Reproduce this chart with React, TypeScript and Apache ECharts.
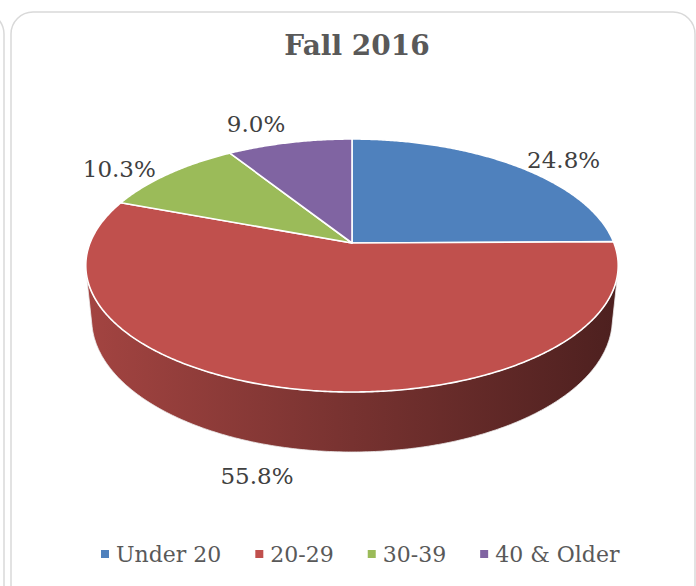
import React, { useEffect, useRef } from "react";
import * as echarts from "echarts";

const categories = ["Under 20", "20-29", "30-39", "40 & Older"];
const values = [24.8, 55.8, 10.3, 9.0];
const labels = ["24.8%", "55.8%", "10.3%", "9.0%"];
const colors = ["#4F81BD", "#C0504D", "#9BBB59", "#8064A2"];
const titleText = "Fall 2016";

const FONT = "'DejaVu Serif', Georgia, serif";

// 3D projection parameters (layout)
const CX = 352;
const CY = 243;
const K = 1302;
const DIST = 4.97;
const PHI = Math.asin(0.4676);
const THICK = 0.2328;
const SN = Math.sin(PHI);
const CS = Math.cos(PHI);

function proj(theta: number, r: number, H: number): number[] {
  const X = r * Math.sin(theta);
  const Z = r * Math.cos(theta);
  const depth = DIST - H * SN + Z * CS;
  const up = H * CS + Z * SN;
  return [CX + (K * X) / depth, CY - (K * up) / depth];
}

function shade(hex: string, f: number): string {
  const n = parseInt(hex.slice(1), 16);
  const r = Math.round(((n >> 16) & 255) * f);
  const g = Math.round(((n >> 8) & 255) * f);
  const b = Math.round((n & 255) * f);
  return `rgb(${r},${g},${b})`;
}

export default function App() {
  const ref = useRef<HTMLDivElement>(null);
  useEffect(() => {
    if (!ref.current) return;
    const chart = echarts.init(ref.current, undefined, { renderer: "svg" });
    const total = values.reduce((a, b) => a + b, 0);
    const starts: number[] = [];
    let acc = 0;
    values.forEach((v) => {
      starts.push(acc);
      acc += v;
    });
    const visMin = Math.acos(-1 / (DIST * CS));
    const visMax = 2 * Math.PI - visMin;

    const series = categories.map((name, i) => ({
      type: "custom",
      name,
      coordinateSystem: "none",
      silent: true,
      data: [values[i]],
      renderItem: (params: any, api: any) => {
        const a = (starts[i] / total) * Math.PI * 2;
        const b = ((starts[i] + api.value(0)) / total) * Math.PI * 2;
        const step = Math.PI / 360;
        const children: any[] = [];
        // top face
        const top: number[][] = [proj(0, 0, 0)];
        for (let t = a; t < b; t += step) top.push(proj(t, 1, 0));
        top.push(proj(b, 1, 0));
        children.push({
          type: "polygon",
          z2: 10,
          shape: { points: top },
          style: { fill: colors[i], stroke: "#ffffff", lineWidth: 1.6, lineJoin: "round" },
        });
        // visible outer side
        const sa = Math.max(a, visMin);
        const sb = Math.min(b, visMax);
        if (sb > sa) {
          const side: number[][] = [];
          for (let t = sa; t < sb; t += step) side.push(proj(t, 1, 0));
          side.push(proj(sb, 1, 0));
          const bottom: number[][] = [];
          for (let t = sa; t < sb; t += step) bottom.push(proj(t, 1, -THICK));
          bottom.push(proj(sb, 1, -THICK));
          bottom.reverse();
          const l = proj(visMin, 1, 0)[0];
          const rr = proj(visMax, 1, 0)[0];
          children.push({
            type: "polygon",
            z2: 5,
            shape: { points: side.concat(bottom) },
            style: {
              fill: new echarts.graphic.LinearGradient(
                Math.min(l, rr), 0, Math.max(l, rr), 0,
                [
                  { offset: 0, color: shade(colors[i], 0.85) },
                  { offset: 0.5, color: shade(colors[i], 0.62) },
                  { offset: 1, color: shade(colors[i], 0.4) },
                ],
                true
              ),
              stroke: "#ececec",
              lineWidth: 0.8,
              lineJoin: "round",
            },
          });
        }
        // label
        const mid = (a + b) / 2;
        const Xm = Math.sin(mid);
        const Zm = Math.cos(mid);
        const p = proj(mid, 1.08, Zm < 0 ? -THICK : 0);
        const align = Xm >= 0 ? "left" : "right";
        const vAlign = Math.abs(Zm) > 0.85 ? (Zm > 0 ? "bottom" : "top") : "middle";
        children.push({
          type: "text",
          z2: 20,
          x: p[0],
          y: p[1],
          style: {
            text: labels[i],
            fill: "#404040",
            font: `23px ${FONT}`,
            align,
            verticalAlign: vAlign,
            textAlign: align,
            textVerticalAlign: vAlign,
          },
        });
        return { type: "group", children };
      },
    }));

    chart.setOption({
      animation: false,
      color: colors,
      title: {
        text: titleText,
        left: 352,
        textAlign: "center",
        top: 26,
        textStyle: { fontFamily: FONT, fontWeight: "bold", fontSize: 28, color: "#595959" },
      },
      legend: {
        data: categories,
        left: 96,
        top: 537,
        icon: "rect",
        itemWidth: 8,
        itemHeight: 8,
        itemGap: 34,
        textStyle: {
          fontFamily: FONT,
          fontSize: 22,
          color: "#595959",
          lineHeight: 24,
          padding: [0, 0, 0, 2],
        },
      },
      graphic: [
        {
          type: "rect",
          silent: true,
          z: -10,
          shape: { x: 11, y: 12, width: 684, height: 600, r: 22 },
          style: { fill: "#ffffff", stroke: "#d9d9d9", lineWidth: 1.5 },
        },
        {
          type: "rect",
          silent: true,
          z: -10,
          shape: { x: -300, y: 12, width: 304, height: 600, r: 22 },
          style: { fill: "#ffffff", stroke: "#d9d9d9", lineWidth: 1.5 },
        },
      ],
      series,
    });
    return () => chart.dispose();
  }, []);
  return (
    <div
      ref={ref}
      style={{ position: "fixed", left: 0, top: 0, width: 696, height: 586, background: "#ffffff" }}
    />
  );
}
